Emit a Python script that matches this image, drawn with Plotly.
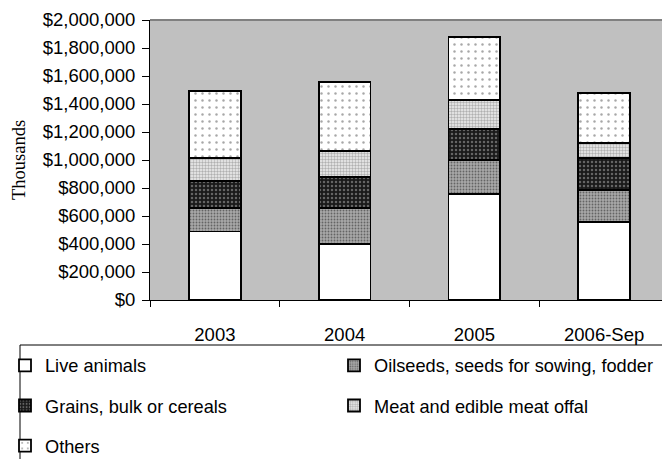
import plotly.graph_objects as go

years = ["2003", "2004", "2005", "2006-Sep"]
live_animals = [490000, 400000, 757000, 559000]
oilseeds = [169000, 255000, 243000, 227000]
grains = [191000, 221000, 221000, 226000]
meat = [166000, 190000, 208000, 107000]
others = [477000, 493000, 450000, 357000]

y_ticks = [0, 200000, 400000, 600000, 800000, 1000000, 1200000, 1400000,
           1600000, 1800000, 2000000]

FONT = "Liberation Sans, Arial, sans-serif"
FS = 18.5

series = [
    ("Live animals", live_animals, dict(shape="", bgcolor="white", fgcolor="white"), "legend"),
    ("Oilseeds, seeds for sowing, fodder", oilseeds,
     dict(shape=".", bgcolor="#a8a8a8", fgcolor="#202020", size=3, solidity=0.3), "legend2"),
    ("Grains, bulk or cereals", grains,
     dict(shape=".", bgcolor="#1a1a1a", fgcolor="#b0b0b0", size=4, solidity=0.3), "legend"),
    ("Meat and edible meat offal", meat,
     dict(shape=".", bgcolor="#f0f0f0", fgcolor="#707070", size=3, solidity=0.5), "legend2"),
    ("Others", others,
     dict(shape=".", bgcolor="white", fgcolor="#505050", size=7, solidity=0.1), "legend"),
]

fig = go.Figure()
for name, vals, pat, lg in series:
    fig.add_trace(go.Bar(
        x=years, y=vals, name=name, legendgroup=name, legend=lg,
        marker=dict(color="white", pattern=pat, line=dict(color="black", width=1.8)),
    ))

# page has an 8px body margin; figure is sized so the plot lands where the reference is
OFF = 8
W, H = 670 - OFF, 459 - OFF
L, R, T, B = 150 - OFF, 1, 20 - OFF, 159
pw = W - L - R
ph = H - T - B


def px(x):  # page x -> paper x
    return (x - OFF - L) / pw


def py(y):  # page y -> paper y
    return (H - B - (y - OFF)) / ph


legend_common = dict(xanchor="left", yanchor="top", orientation="v",
                     tracegroupgap=13.5, traceorder="grouped",
                     bgcolor="rgba(0,0,0,0)", borderwidth=0,
                     font=dict(family=FONT, size=18.2, color="black"))

fig.update_layout(
    width=W, height=H,
    margin=dict(l=L, r=R, t=T, b=B, autoexpand=False),
    barmode="stack", bargap=0.6,
    plot_bgcolor="#c0c0c0", paper_bgcolor="white",
    font=dict(family=FONT, size=FS, color="black"),
    legend=dict(x=px(5), y=py(347), **legend_common),
    legend2=dict(x=px(334), y=py(347), **legend_common),
    xaxis=dict(type="category", showgrid=False, showline=True, linecolor="black",
               linewidth=1, ticks="outside", tickson="boundaries", ticklen=6,
               tickcolor="black", ticklabelstandoff=18,
               tickfont=dict(family=FONT, size=FS, color="black")),
    yaxis=dict(range=[0, 2000000], tickvals=y_ticks, tickformat="$,.0f",
               showgrid=False, showline=True, linecolor="black", linewidth=1,
               ticks="outside", ticklen=7, tickcolor="black", ticklabelstandoff=3,
               zeroline=False,
               tickfont=dict(family=FONT, size=FS, color="black"),
               title=dict(text="Thousands", standoff=11.5,
                          font=dict(family="Liberation Serif, Times New Roman, serif",
                                    size=FS, color="black"))),
    shapes=[
        dict(type="line", xref="paper", yref="paper", x0=0, x1=1, y0=1, y1=1,
             line=dict(color="#808080", width=2)),
        dict(type="line", xref="paper", yref="paper", x0=1, x1=1, y0=0, y1=1,
             line=dict(color="#808080", width=2)),
        dict(type="rect", xref="paper", yref="paper",
             x0=px(20), x1=px(700), y0=py(345), y1=py(480),
             line=dict(color="black", width=1), fillcolor="rgba(0,0,0,0)"),
    ],
)

fig.write_html("out.html")
